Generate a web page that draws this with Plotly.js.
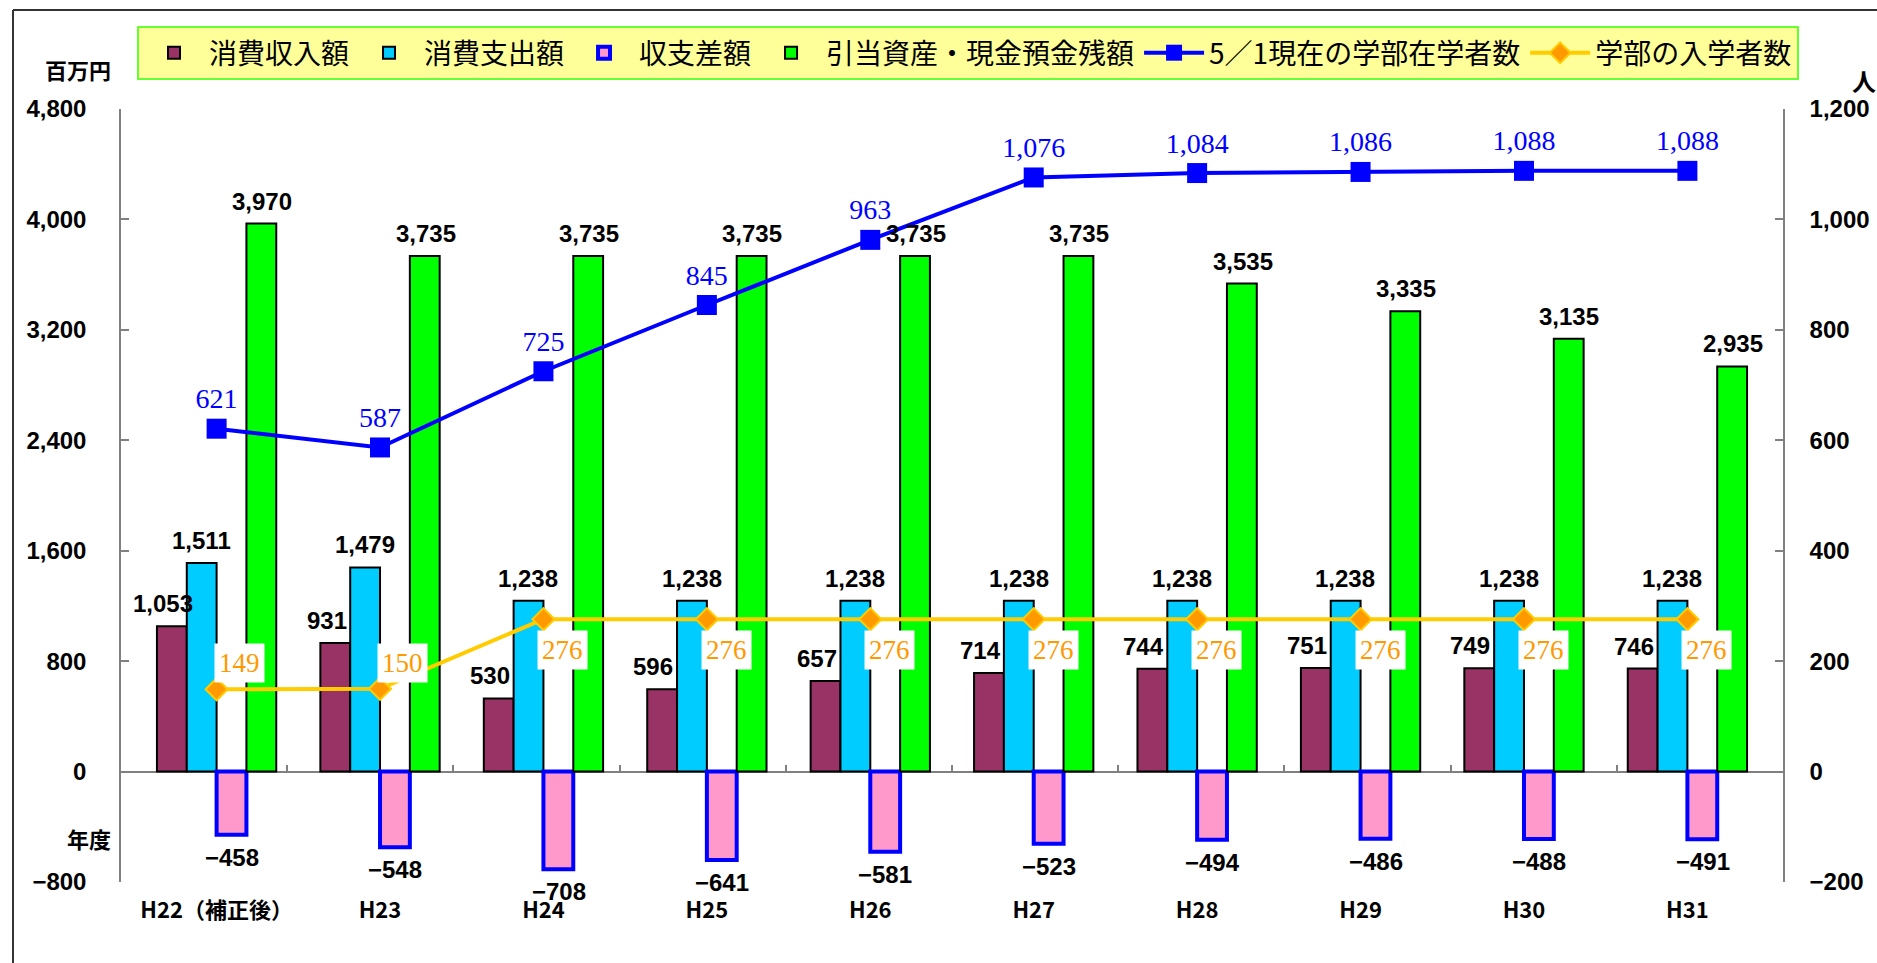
<!DOCTYPE html>
<html><head><meta charset="utf-8">
<script src="https://cdn.plot.ly/plotly-3.0.1.min.js"></script>
<style>html,body{margin:0;padding:0;background:#fff}#chart{width:1877px;height:963px}</style>
</head><body><div id="chart"></div>
<script>
// ---- data ----
const years = ['H22（補正後）','H23','H24','H25','H26','H27','H28','H29','H30','H31'];
const income = [1053,931,530,596,657,714,744,751,749,746];
const expense = [1511,1479,1238,1238,1238,1238,1238,1238,1238,1238];
const balance = [-458,-548,-708,-641,-581,-523,-494,-486,-488,-491];
const reserve = [3970,3735,3735,3735,3735,3735,3535,3335,3135,2935];
const enrolled = [621,587,725,845,963,1076,1084,1086,1088,1088];
const admitted = [149,150,276,276,276,276,276,276,276,276];
const leftTicks = [-800,0,800,1600,2400,3200,4000,4800];
const rightTicks = [-200,0,200,400,600,800,1000,1200];
const seriesNames = ['消費収入額','消費支出額','収支差額','引当資産・現金預金残額','5／1現在の学部在学者数','学部の入学者数'];

// ---- helpers ----
const W = 1877, H = 963, M = {l:121, r:94, t:109, b:81};
const px2x = p => (p - M.l) / (W - M.l - M.r);
const py2y = p => (H - M.b - p) / (H - M.t - M.b);
const fmt = v => (v < 0 ? '−' : '') + Math.abs(v).toLocaleString('en-US');
const yRange = [leftTicks[0], leftTicks[leftTicks.length-1]];
const y2Range = [rightTicks[0], rightTicks[rightTicks.length-1]];
const boundaries = years.slice(1).map((_, i) => i + 0.5);
const BARGAP = 0.27, NBARS = 4;
const catW = (W - M.l - M.r) / years.length;
const barW = catW * (1 - BARGAP) / NBARS;

const barText = {family:'Liberation Sans, Arial, sans-serif', size:24, color:'#000', weight:'bold'};
function bar(name, vals, fill, lineColor, lineWidth){
  return {type:'bar', name, x:years, y:vals,
    marker:{color:fill, line:{color:lineColor, width:lineWidth}}, hoverinfo:'x+y'};
}
const traces = [
  bar(seriesNames[0], income, '#993366', '#000', 2),
  bar(seriesNames[1], expense, '#00ccff', '#000', 2),
  bar(seriesNames[2], balance, '#ff99cc', '#0000ff', 4),
  bar(seriesNames[3], reserve, '#00ff00', '#000', 2),
  {type:'scatter', mode:'lines+markers+text', name:seriesNames[4], x:years, y:enrolled, yaxis:'y2',
    text:enrolled.map(fmt), textposition:'top center', cliponaxis:false,
    textfont:{family:'Liberation Serif, Times New Roman, serif', size:28, color:'#0000ff'},
    line:{color:'#0000ff', width:4}, marker:{symbol:'square', size:20, color:'#0000ff'}},
  {type:'scatter', mode:'lines+markers', name:seriesNames[5], x:years, y:admitted, yaxis:'y2',
    cliponaxis:false,
    line:{color:'#ffcc00', width:4}, marker:{symbol:'diamond', size:17, color:'#ff9900', line:{color:'#ffcc00', width:2}}},
  {type:'scatter', x:[], y:[], xaxis:'x2', yaxis:'y', showlegend:false, hoverinfo:'skip'}
];

// data labels of the bars (drawn above all bars)
function barLabels(vals, idx, dx){
  return vals.map((v, i) => ({xref:'x', yref:'y', x:years[i], y:v, text:fmt(v), showarrow:false,
    xanchor:'center', yanchor: v < 0 ? 'top' : 'bottom',
    xshift:(idx - (NBARS - 1) / 2) * barW + dx, yshift: v < 0 ? -7 : 7, font:barText}));
}
const annotations = [].concat(
  barLabels(income, 0, -8), barLabels(expense, 1, 0), barLabels(balance, 2, 0), barLabels(reserve, 3, 0)
);
admitted.forEach((v, i) => {
  const above = i < admitted.length - 1 && admitted[i+1] > v;
  annotations.push({xref:'x', yref:'y2', x:years[i], y:v, text:String(v), showarrow:false,
    xanchor:'left', yanchor: above ? 'bottom' : 'top', xshift: above ? -3 : -6, yshift: above ? 6 : -11,
    bgcolor:'#ffffff', borderpad:4,
    font:{family:'Liberation Serif, Times New Roman, serif', size:27, color:'#ff9900'}});
});
const titleFont = {family:'Noto Sans CJK JP, sans-serif', size:22, color:'#000', weight:'bold'};
annotations.push(
  {xref:'paper', yref:'paper', x:px2x(78), y:py2y(69), text:'百万円', showarrow:false, xanchor:'center', yanchor:'middle', font:titleFont},
  {xref:'paper', yref:'paper', x:px2x(1864), y:py2y(81), text:'人', showarrow:false, xanchor:'center', yanchor:'middle', font:Object.assign({}, titleFont, {size:24})},
  {xref:'paper', yref:'paper', x:px2x(113), y:py2y(838), text:'年度', showarrow:false, xanchor:'right', yanchor:'middle', font:titleFont}
);

const tickFont = {family:'Liberation Sans, Arial, sans-serif', size:24, color:'#000', weight:'bold'};
const layout = {
  width:W, height:H, margin:M, paper_bgcolor:'#fff', plot_bgcolor:'#fff',
  barmode:'group', bargap:BARGAP, bargroupgap:0, showlegend:true,
  separators:'.,',
  legend:{orientation:'h', x:px2x(137), y:py2y(26), xanchor:'left', yanchor:'top',
    bgcolor:'#ffff99', bordercolor:'#66ff33', borderwidth:2, itemwidth:60,
    font:{family:'Noto Sans CJK JP, sans-serif', size:28, color:'#000'}, traceorder:'normal'},
  xaxis:{type:'category', showline:false, showgrid:false, zeroline:false,
    ticks:'outside', ticklen:9, tickcolor:'rgba(0,0,0,0)',
    tickfont:{family:'Noto Sans CJK JP, sans-serif', size:22, color:'#000', weight:'bold'}},
  xaxis2:{overlaying:'x', anchor:'free', position:(0 - yRange[0])/(yRange[1]-yRange[0]),
    range:[-0.5, years.length-0.5], tickvals:boundaries, ticks:'inside', ticklen:7, tickwidth:1.5,
    tickcolor:'#808080', showticklabels:false, showgrid:false, zeroline:false, showline:false},
  yaxis:{range:yRange, tickvals:leftTicks, tickformat:',', showgrid:false,
    zeroline:true, zerolinecolor:'#808080', zerolinewidth:2,
    showline:true, linecolor:'#808080', linewidth:1.5, ticks:'inside', ticklen:8, tickcolor:'#808080', tickwidth:1.5,
    ticklabelstandoff:28, tickfont:tickFont},
  yaxis2:{overlaying:'y', side:'right', range:y2Range, tickvals:rightTicks, tickformat:',', showgrid:false,
    zeroline:false, showline:true, linecolor:'#808080', linewidth:1.5, ticks:'inside', ticklen:8,
    tickcolor:'#808080', tickwidth:1.5, ticklabelstandoff:20, tickfont:tickFont},
  annotations,
  shapes:[
    {type:'line', xref:'paper', yref:'paper', x0:px2x(13), x1:px2x(W+5), y0:py2y(10), y1:py2y(10), line:{color:'#333', width:2}},
    {type:'line', xref:'paper', yref:'paper', x0:px2x(13), x1:px2x(13), y0:py2y(10), y1:py2y(H+5), line:{color:'#333', width:2}}
  ]
};
Plotly.newPlot('chart', traces, layout, {displayModeBar:false, responsive:false});
</script></body></html>
